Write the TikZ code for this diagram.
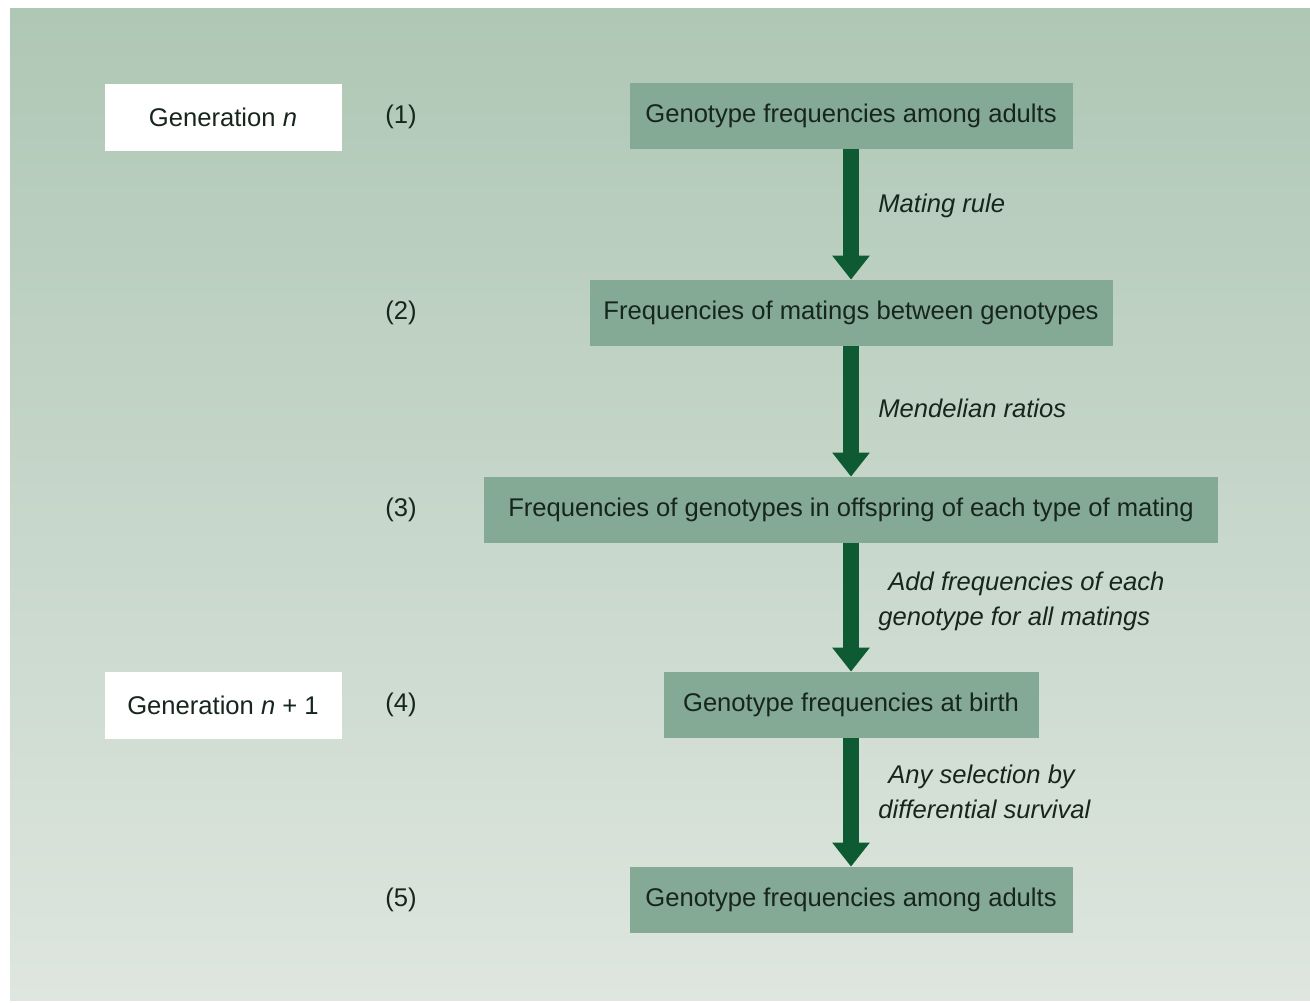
\documentclass[tikz,border=0pt]{standalone}
\usepackage{fontspec}
\setmainfont{Liberation Sans}
\usetikzlibrary{arrows.meta,positioning}
\definecolor{bgtop}{HTML}{AFC7B5}
\definecolor{bgbot}{HTML}{DEE6DF}
\definecolor{boxgreen}{HTML}{84A994}
\definecolor{arrowgreen}{HTML}{0E5A33}
\definecolor{inkgreen}{HTML}{17261C}
\begin{document}
\begin{tikzpicture}[x=0.5pt,y=-0.5pt,
    freq/.style={fill=boxgreen,text=inkgreen,minimum height=33pt,inner sep=0pt,
      font=\fontsize{12.8}{15}\selectfont},
    gen/.style={fill=white,text=inkgreen,minimum width=118.5pt,minimum height=33.5pt,
      inner sep=0pt,font=\fontsize{12.8}{15}\selectfont},
    num/.style={text=inkgreen,inner sep=0pt,font=\fontsize{12.8}{15}\selectfont},
    rule/.style={text=inkgreen,anchor=west,align=left,inner sep=0pt,
      font=\fontsize{12.8}{17.5}\selectfont\itshape},
    flow/.style={arrowgreen,line width=8pt,-{Triangle[width=18pt,length=12pt]}}]
      \useasboundingbox (0,0) rectangle (1310,1002);
      \fill[white] (0,0) rectangle (1310,1002);
      \shade[top color=bgtop,bottom color=bgbot] (10,8) rectangle (1310,1000);

      % generation labels
      \node[gen] (gn) at (223,117) {Generation \textit{n}};
      \node[gen] (gm) at (223,705) {Generation \textit{n} + 1};

      % step numbers
      \node[num] (s1) at (401,117) {(1)};
      \node[num] (s2) at (401,313) {(2)};
      \node[num] (s3) at (401,510) {(3)};
      \node[num] (s4) at (401,705) {(4)};
      \node[num] (s5) at (401,900) {(5)};

      % frequency boxes
      \node[freq,minimum width=221.5pt] (b1) at (851,116) {Genotype frequencies among adults};
      \node[freq,minimum width=261.5pt] (b2) at (851,313) {Frequencies of matings between genotypes};
      \node[freq,minimum width=367pt] (b3) at (851,510) {Frequencies of genotypes in offspring of each type of mating};
      \node[freq,minimum width=187.5pt] (b4) at (851,705) {Genotype frequencies at birth};
      \node[freq,minimum width=221.5pt] (b5) at (851,900) {Genotype frequencies among adults};

      \draw[flow] (b1) -- (b2);
      \draw[flow] (b2) -- (b3);
      \draw[flow] (b3) -- (b4);
      \draw[flow] (b4) -- (b5);

      % what happens between steps
      \node[rule] (r1) at (878,206) {Mating rule};
      \node[rule] (r2) at (878,408) {Mendelian ratios};
      \node[rule] (r3) at (878,601) {\hspace{5pt}Add frequencies of each\\genotype for all matings};
      \node[rule] (r4) at (878,792) {\hspace{5pt}Any selection by\\differential survival};
    \end{tikzpicture}
\end{document}
